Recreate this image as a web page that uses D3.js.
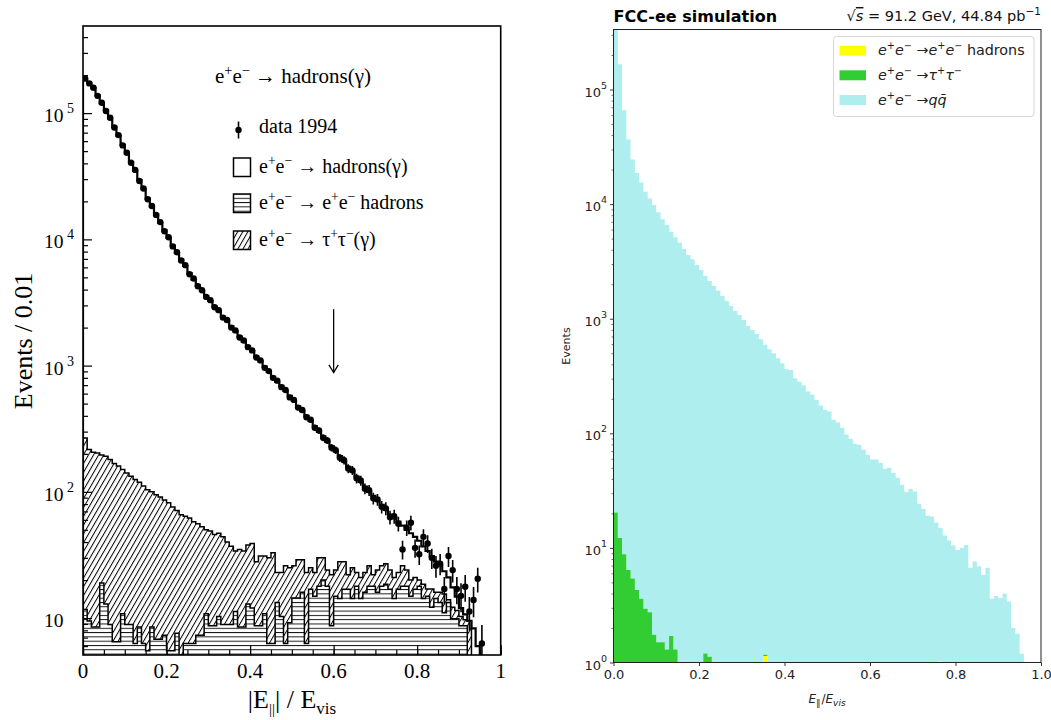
<!DOCTYPE html>
<html>
<head>
	<meta charset="utf-8">
	<title>|E_par| / E_vis : LEP data vs FCC-ee simulation</title>
	<script src="https://cdn.jsdelivr.net/npm/d3@7"></script>
	<style>
		body { margin: 0; background: #fff; }
		.serif { font-family: "Liberation Serif", "DejaVu Serif", serif; }
		.sans { font-family: "DejaVu Sans", sans-serif; }
	</style>
</head>
<body>
<section id="container"></section>
<script>
//All histograms use bins of 0.01 in |E_par|/E_vis
var binWidth = 0.01;

//Left panel: data 1994 and the three MC samples (events per bin)
var lepMC = [186000,174000,158000,138000,120000,105000,91000,78000,66000,56000,
	48000,41000,35000,29500,25000,21000,18200,15800,13500,11800,
	10300,8900,7800,6900,6150,5400,4800,4300,3900,3550,
	3250,2950,2700,2450,2250,2050,1870,1700,1550,1420,
	1300,1180,1080,980,890,815,745,690,630,575,
	525,475,435,400,365,330,300,275,250,230,
	210,192,174,158,145,132,120,110,100,93,
	85,79,72,66,62,58,54,50,47,44,
	41,37,34,31,28,26,23.5,21,17.5,14.8,
	12,10.7,9.5,8.3,6];
var lepData = [188000,172000,159000,137000,121000,104000,92000,77000,67000,55500,
	48500,40500,35500,29000,25300,20800,18400,15600,13700,11600,
	10400,8800,7900,6800,6250,5300,4900,4250,3950,3500,
	3300,2900,2750,2400,2300,2000,1900,1670,1580,1400,
	1320,1160,1100,960,905,800,760,675,640,560,
	535,465,445,390,372,322,306,268,255,224,
	214,186,178,153,148,128,123,106,103,89,
	87,76,74,63,64,56,35,52,57,36,
	32,44,39,30,26,27,17,31,24,17,
	15,17.7,11.3,13.9,20.5,6.3];
var lepEEHad = [11.7,9.5,8.5,8.5,19,12.9,8.9,6.5,6.5,10.8,
	8.9,8.9,6.3,8.5,6.3,5.5,8.5,6.8,6.8,7.3,
	5.5,5.5,7.6,0,6.3,6.3,6.3,7.3,7.3,10.8,
	8.7,8.7,10.3,8.9,8.9,8.9,11.3,8.5,8.5,12.9,
	12,8.7,8.7,10.8,6.3,6.3,13.3,10.3,6.3,9.2,
	14.4,14.4,16,6.3,16.9,14.9,17.9,20,17.9,8.7,
	14.9,14.3,16.9,16.9,14.3,17.9,14.3,16,17.9,17.9,
	16,17.9,18.5,16.9,14.3,16.9,17.9,17.9,14.9,16.9,
	17.9,14.3,14.9,12.2,14.3,13.3,11,13.3,9.9,9.9,
	8.7,8.7];
var lepTau = [255.3,206.5,197.5,194.5,177,178.1,171.1,161.5,153.5,139.2,
	132.1,124.1,118.7,110.5,104.7,98.5,91.5,88.2,84.2,78.7,
	76.5,70.5,63.4,66,57.7,55.7,51.7,48.7,45.7,39.2,
	40.3,37.3,36.7,35.1,31.1,28.1,22.7,26.5,25.5,25.1,
	27,19.3,22.3,20.2,23.7,26.7,9.7,12.7,19.7,15.8,
	11.6,14.6,13,16.7,8.1,8.1,12.1,10,6.1,13.3,
	9.1,13.7,11.1,5.1,10.7,5.1,6.7,7,8.1,4.1,
	8,8.1,8.5,7.1,6.7,6.1,8.1,6.1,5.1,4.1,
	2.1,4.2,2.1,4.8,1.7,2.7,4.5,0.7,2.3,1.6,
	1.6,1,9.5];
var cutValue = 0.6;
var cutArrow = [2800, 880];
var lepXTicks = [0,0.2,0.4,0.6,0.8,1];
var lepXTickText = ["0","0.2","0.4","0.6","0.8","1"];
var lepYTicks = [10,100,1000,10000,100000];

//Right panel: FCC-ee simulation, stacked
var fccQQ = [500000,166000,66000,36600,24500,18700,15400,12800,11200,9800,
	8470,7360,6560,5730,5130,4600,4060,3590,3310,2940,
	2660,2360,2130,1930,1750,1580,1430,1290,1170,1080,
	975,865,798,736,661,590,541,499,452,408,
	362,357,302,282,261,232,217,195,175,160,
	155,131,124,112,97,89,81,79,72,65,
	59,59,55,49,50,45,41,35.5,30.8,32.6,
	31,24.3,21.9,19.1,18.8,16.7,13.9,12.8,11.6,10.5,
	9.6,10,10.6,6.7,7.6,6.9,5.8,6.7,3.6,3.8,
	3.65,4,3.4,2,1.78,1.19];
var fccTau = [20.4,12.2,8.8,6.4,5.4,4.3,3.6,2.95,2.75,1.75,
	1.5,1.5,1.3,1.7,1.3,0,0,0,0,0,
	0,1.2,1.12,0,0,0,0,0,0,0,
	0,0,0,0,0,0.03];
var fccEEHadBins = [35, 76];
var fccEEHadCounts = [1.14, 1.02];
var fccXTicks = [0,0.2,0.4,0.6,0.8,1.0];
var fccYTicks = [1,10,100,1000,10000,100000];
var fccNames = [
	[["e","i"],["+","sup"],["e","i"],["\u2212","sup"],[" \u2192"],["e","i"],["+","sup"],["e","i"],["\u2212","sup"],[" hadrons"]],
	[["e","i"],["+","sup"],["e","i"],["\u2212","sup"],[" \u2192"],["\u03c4","i"],["+","sup"],["\u03c4","i"],["\u2212","sup"]],
	[["e","i"],["+","sup"],["e","i"],["\u2212","sup"],[" \u2192"],["q","i"],["q\u0304","i"]]
];
var fccColors = ["#ffff00","#32cd32","#afeeee"];

//helper: text with super/subscripts built from tspans
function rich(g, x, y, parts, size) {
	var t = g.append("text").attr("x",x).attr("y",y).style("font-size",size+"px");
	var cur = 0;
	parts.forEach(function(p) {
		var kind = p[1] || "";
		var off = kind.indexOf("sup")>=0 ? -size*0.4 : (kind.indexOf("sub")>=0 ? size*0.28 : 0);
		var ts = t.append("tspan").text(p[0]).attr("dy",off-cur);
		if (off) ts.style("font-size",(size*0.68)+"px");
		if (kind.charAt(0)=="i") ts.style("font-style","italic");
		cur = off;
	});
	return t;
}

//turns a histogram into step points
function steps(vals) {
	var pts = [];
	vals.forEach(function(v,i) {
		pts.push({x:i*binWidth, y:v});
		pts.push({x:(i+1)*binWidth, y:v});
	});
	return pts;
}

var svg = d3.select("#container")
	.append("svg")
	.attr("width",1051)
	.attr("height",720);
var defs = svg.append("defs");

//hatch patterns
var diag = defs.append("pattern").attr("id","diag")
	.attr("patternUnits","userSpaceOnUse")
	.attr("width",4.4).attr("height",10)
	.attr("patternTransform","rotate(30)");
diag.append("rect").attr("width",4.4).attr("height",10).attr("fill","#fff");
diag.append("line").attr("x1",0.5).attr("y1",0).attr("x2",0.5).attr("y2",10)
	.attr("stroke","#000").attr("stroke-width",1);
var horiz = defs.append("pattern").attr("id","horiz")
	.attr("patternUnits","userSpaceOnUse")
	.attr("width",10).attr("height",4.3);
horiz.append("rect").attr("width",10).attr("height",4.3).attr("fill","#fff");
horiz.append("line").attr("x1",0).attr("y1",0.5).attr("x2",10).attr("y2",0.5)
	.attr("stroke","#000").attr("stroke-width",0.9);

// ---------------- LEFT PANEL ----------------
var xL = d3.scaleLinear().domain([0,1]).range([83,500.7]);
var yMinL = 5.1;
var yL = d3.scaleLog().domain([yMinL,4.9e5]).range([655,26]).clamp(true);
function yLc(v) { return yL(Math.max(v,yMinL)); }

defs.append("clipPath").attr("id","clipL").append("rect")
	.attr("x",83).attr("y",26).attr("width",417.7).attr("height",629);

var left = svg.append("g").attr("class","serif");
var plotL = left.append("g").attr("clip-path","url(#clipL)");

//stack e+e- hadrons (bottom) and tau pairs
var rowsL = lepTau.map(function(t,i) { return {eeh: lepEEHad[i]||0, tau: t}; });
var layersL = d3.stack().keys(["eeh","tau"])(rowsL);

function stackPts(layer) {
	var pts = [];
	layer.forEach(function(d,i) {
		pts.push({x:i*binWidth, y0:d[0], y1:d[1]});
		pts.push({x:(i+1)*binWidth, y0:d[0], y1:d[1]});
	});
	return pts;
}
var areaL = d3.area()
	.x(function(d){ return xL(d.x); })
	.y0(function(d){ return yLc(d.y0); })
	.y1(function(d){ return yLc(d.y1); });
var lineL = d3.line()
	.x(function(d){ return xL(d.x); })
	.y(function(d){ return yLc(d.y); });

function outline(vals) {
	return [{x:0,y:0}].concat(steps(vals)).concat([{x:vals.length*binWidth,y:0}]);
}

//tau pairs (diagonal hatching)
plotL.append("path").attr("d",areaL(stackPts(layersL[1])))
	.attr("fill","url(#diag)");
plotL.append("path").attr("d",lineL(outline(layersL[1].map(function(d){ return d[1]; }))))
	.attr("fill","none").attr("stroke","#000").attr("stroke-width",1.5);
//e+e- hadrons (horizontal hatching)
plotL.append("path").attr("d",areaL(stackPts(layersL[0])))
	.attr("fill","url(#horiz)");
plotL.append("path").attr("d",lineL(outline(lepEEHad)))
	.attr("fill","none").attr("stroke","#000").attr("stroke-width",1.5);

//total MC
plotL.append("path").attr("d",lineL(outline(lepMC)))
	.attr("fill","none").attr("stroke","#000").attr("stroke-width",2.2);

//data points with sqrt(N) errors
var pts = plotL.append("g");
lepData.forEach(function(v,i) {
	var xc = xL((i+0.5)*binWidth);
	var e = Math.sqrt(v);
	pts.append("line").attr("x1",xc).attr("x2",xc)
		.attr("y1",yLc(v-e)).attr("y2",yLc(v+e))
		.attr("stroke","#000").attr("stroke-width",1.6);
	pts.append("circle").attr("cx",xc).attr("cy",yL(v)).attr("r",3.2).attr("fill","#000");
});

//cut arrow
var ax = xL(cutValue);
left.append("line").attr("x1",ax).attr("x2",ax)
	.attr("y1",yL(cutArrow[0])).attr("y2",yL(cutArrow[1]))
	.attr("stroke","#000").attr("stroke-width",1.3);
left.append("polyline")
	.attr("points",[[ax-4.7,yL(cutArrow[1])-7.7],[ax,yL(cutArrow[1])],[ax+4.7,yL(cutArrow[1])-7.7]].join(" "))
	.attr("fill","none").attr("stroke","#000").attr("stroke-width",1.3);

//frame
left.append("rect").attr("x",83).attr("y",26).attr("width",417.7).attr("height",629)
	.attr("fill","none").attr("stroke","#000").attr("stroke-width",1.6);

//x ticks (inside)
var xMinor = d3.range(0,21).map(function(k){ return k*0.05; });
left.append("g").attr("transform","translate(0,655)")
	.call(d3.axisBottom(xL).tickValues(xMinor).tickSize(-5).tickFormat(""))
	.call(function(g){ g.select(".domain").remove(); g.selectAll("line").attr("stroke-width",1.2); });
left.append("g").attr("transform","translate(0,655)")
	.call(d3.axisBottom(xL).tickValues(lepXTicks).tickSize(-10).tickFormat(""))
	.call(function(g){ g.select(".domain").remove(); g.selectAll("line").attr("stroke-width",1.2); });
lepXTicks.forEach(function(t,i) {
	left.append("text").attr("x",xL(t)).attr("y",678).attr("text-anchor","middle")
		.style("font-size","21px").text(lepXTickText[i]);
});

//y ticks (inside)
var yMinorL = [];
[1,10,100,1000,10000,100000].forEach(function(d) {
	for (var k=2;k<=9;k++) { var v=k*d; if (v>yMinL && v<4.9e5) yMinorL.push(v); }
});
left.append("g").attr("transform","translate(83,0)")
	.call(d3.axisLeft(yL).tickValues(yMinorL).tickSize(-5).tickFormat(""))
	.call(function(g){ g.select(".domain").remove(); g.selectAll("line").attr("stroke-width",1.2); });
left.append("g").attr("transform","translate(83,0)")
	.call(d3.axisLeft(yL).tickValues(lepYTicks).tickSize(-9).tickFormat(""))
	.call(function(g){ g.select(".domain").remove(); g.selectAll("line").attr("stroke-width",1.2); });
lepYTicks.forEach(function(t) {
	var p = Math.round(Math.log10(t));
	var parts = p==1 ? [["10"]] : [["10"],[" "+p,"sup"]];
	var lab = rich(left, 44, yL(t)+9, parts, 19.5);
	lab.selectAll("tspan").filter(function(d,i){ return i==1; }).attr("dy",-9).style("font-size","14px");
});

//axis titles
left.append("text").attr("transform","translate(32,341) rotate(-90)")
	.attr("text-anchor","middle").style("font-size","26px").text("Events / 0.01");
var xt = left.append("text").attr("x",292).attr("y",708).attr("text-anchor","middle").style("font-size","26px");
xt.append("tspan").text("|E");
xt.append("tspan").text("||").attr("dy",6).style("font-size","15px");
xt.append("tspan").text("| / E").attr("dy",-6);
xt.append("tspan").text("vis").attr("dy",6).style("font-size","17px");

//legend
var legL = left.append("g");
rich(legL, 215, 83, [["e"],["+","sup"],["e"],["\u2212","sup"],[" \u2192 hadrons(\u03b3)"]], 21);
legL.append("line").attr("x1",238.5).attr("x2",238.5).attr("y1",121.5).attr("y2",138.5)
	.attr("stroke","#000").attr("stroke-width",1.6);
legL.append("circle").attr("cx",238.5).attr("cy",130).attr("r",3.2).attr("fill","#000");
legL.append("text").attr("x",259).attr("y",133).style("font-size","20px").text("data 1994");
var boxFill = ["#fff","url(#horiz)","url(#diag)"];
var boxY = [158,194,231];
boxFill.forEach(function(f,i) {
	legL.append("rect").attr("x",233.5).attr("y",boxY[i]).attr("width",17).attr("height",18.5)
		.attr("fill",f).attr("stroke","#000").attr("stroke-width",1.5);
});
rich(legL, 259, 173, [["e"],["+","sup"],["e"],["\u2212","sup"],[" \u2192 hadrons(\u03b3)"]], 20);
rich(legL, 259, 209, [["e"],["+","sup"],["e"],["\u2212","sup"],[" \u2192 e"],["+","sup"],["e"],["\u2212","sup"],[" hadrons"]], 20);
rich(legL, 259, 246, [["e"],["+","sup"],["e"],["\u2212","sup"],[" \u2192 \u03c4"],["+","sup"],["\u03c4"],["\u2212","sup"],["(\u03b3)"]], 20);

// ---------------- RIGHT PANEL ----------------
var xR = d3.scaleLinear().domain([0,1]).range([613.5,1041]);
var yR = d3.scaleLog().domain([1,3.34e5]).range([662.5,29.5]).clamp(true);
function yRc(v) { return yR(Math.max(v,1)); }

defs.append("clipPath").attr("id","clipR").append("rect")
	.attr("x",613.5).attr("y",29.5).attr("width",427.5).attr("height",633);

var right = svg.append("g").attr("class","sans");

var rowsR = fccQQ.map(function(q,i) {
	var k = fccEEHadBins.indexOf(i);
	return {eeh: k>=0 ? fccEEHadCounts[k] : 0, tau: fccTau[i]||0, qq: q};
});
var layersR = d3.stack().keys(["eeh","tau","qq"])(rowsR);
var areaR = d3.area()
	.x(function(d){ return xR(d.x); })
	.y0(function(d){ return yRc(d.y0); })
	.y1(function(d){ return yRc(d.y1); });
var plotR = right.append("g").attr("clip-path","url(#clipR)");
//draw top layer first so lower ones sit over it
[2,1,0].forEach(function(k) {
	plotR.append("path").attr("d",areaR(stackPts(layersR[k])))
		.attr("fill",fccColors[k]);
});

right.append("rect").attr("x",613.5).attr("y",29.5).attr("width",427.5).attr("height",633)
	.attr("fill","none").attr("stroke","#222").attr("stroke-width",1);

//x axis
right.append("g").attr("transform","translate(0,662.5)")
	.call(d3.axisBottom(xR).tickValues(fccXTicks).tickSize(3.5).tickPadding(3.5).tickFormat(d3.format(".1f")))
	.call(function(g){
		g.select(".domain").remove();
		g.selectAll("line").attr("stroke","#222").attr("stroke-width",0.9);
		g.selectAll("text").attr("font-family","DejaVu Sans").attr("font-size",13).attr("fill","#222");
	});

//y axis
var yMinorR = [];
fccYTicks.forEach(function(d) {
	for (var k=2;k<=9;k++) { var v=k*d; if (v<3.34e5) yMinorR.push(v); }
});
right.append("g").attr("transform","translate(613.5,0)")
	.call(d3.axisLeft(yR).tickValues(yMinorR).tickSize(2).tickFormat(""))
	.call(function(g){ g.select(".domain").remove(); g.selectAll("line").attr("stroke","#222").attr("stroke-width",0.6); });
right.append("g").attr("transform","translate(613.5,0)")
	.call(d3.axisLeft(yR).tickValues(fccYTicks).tickSize(3.5).tickFormat(""))
	.call(function(g){ g.select(".domain").remove(); g.selectAll("line").attr("stroke","#222").attr("stroke-width",0.9); });
fccYTicks.forEach(function(t) {
	var p = Math.round(Math.log10(t));
	var lab = right.append("text").attr("x",607).attr("y",yR(t)+7).attr("text-anchor","end")
		.style("font-size","13px").attr("fill","#222");
	lab.append("tspan").text("10");
	lab.append("tspan").text(p).attr("dy",-8).style("font-size","9.5px");
});

//labels
right.append("text").attr("transform","translate(569.5,346) rotate(-90)")
	.attr("text-anchor","middle").style("font-size","11px").attr("fill","#222").text("Events");
var xr = right.append("text").attr("x",827).attr("y",703).attr("text-anchor","middle")
	.style("font-size","12px").attr("fill","#222");
xr.append("tspan").text("E").style("font-style","italic");
xr.append("tspan").text("\u2225").attr("dy",3).style("font-size","9px");
xr.append("tspan").text("/").attr("dy",-3).attr("dx",1);
xr.append("tspan").text("E").style("font-style","italic");
xr.append("tspan").text("vis").attr("dy",3).style("font-size","9px").style("font-style","italic");

//titles
right.append("text").attr("x",613.5).attr("y",22).style("font-size","16px")
	.style("font-weight","bold").text("FCC-ee simulation");
var tr = right.append("text").attr("x",1041).attr("y",21).attr("text-anchor","end")
	.style("font-size","14.5px").attr("fill","#111");
tr.append("tspan").text("\u221a");
tr.append("tspan").text("s").style("font-style","italic").style("text-decoration","overline");
tr.append("tspan").text(" = 91.2 GeV, 44.84 pb");
tr.append("tspan").text("\u22121").attr("dy",-6).style("font-size","10.5px");

//legend
var legR = right.append("g");
legR.append("rect").attr("x",833.5).attr("y",36.5).attr("width",200.5).attr("height",80)
	.attr("rx",3).attr("fill","#fff").attr("fill-opacity",0.8)
	.attr("stroke","#d6d6d6").attr("stroke-width",1);
var legYR = [50.7,75.3,100];
fccNames.forEach(function(parts,i) {
	legR.append("rect").attr("x",839.5).attr("y",legYR[i]-5).attr("width",26.5).attr("height",10)
		.attr("fill",fccColors[i]);
	rich(legR, 878, legYR[i]+4.5, parts, 14.3).attr("fill","#222");
});
</script>
</body>
</html>
